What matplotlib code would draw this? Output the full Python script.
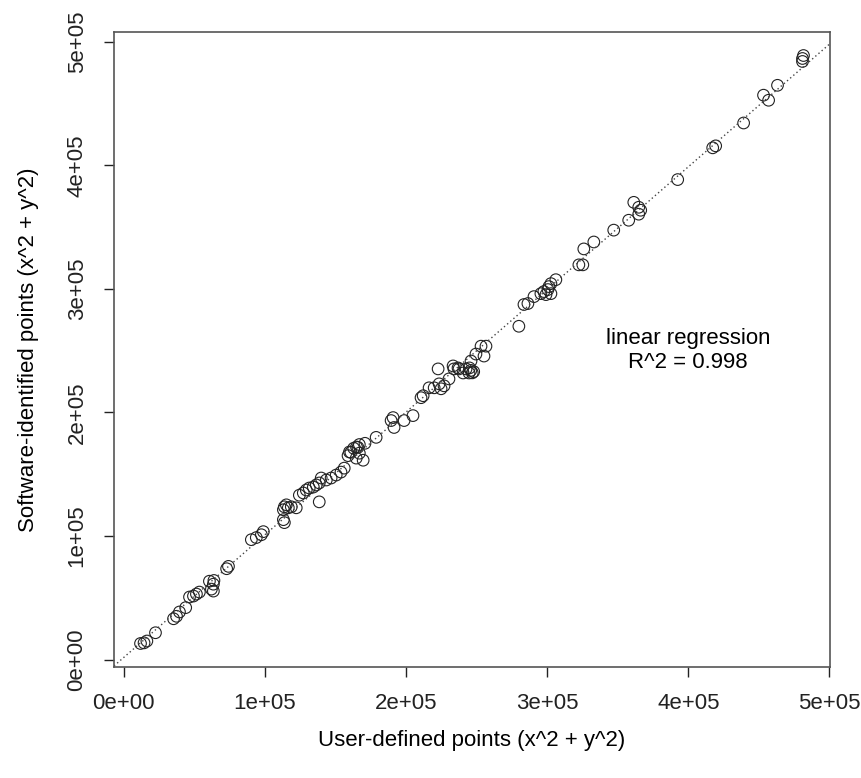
import numpy as np
import matplotlib
matplotlib.use("Agg")
import matplotlib.pyplot as plt

plt.rcParams['font.family'] = ['Liberation Sans', 'DejaVu Sans']

# x^2 + y^2 for the points placed by hand and the points found by the software
user_pts = [12000, 14500, 16500, 22600, 35400, 37500, 39600, 44000, 46700, 49500,
            51600, 53700, 60800, 63600, 62200, 63600, 64000, 74300, 73000, 90500,
            94000, 97600, 99000, 113900, 113200, 115300, 113200, 113900, 116700, 118800,
            122300, 124500, 127300, 129400, 131500, 134400, 136500, 138600, 140000, 138600,
            143600, 147000, 150600, 154000, 156300, 159000, 161000, 163000, 166000, 167000,
            169700, 164800, 160000, 165000, 167000, 171000, 178900, 189500, 190900, 191600,
            198700, 205000, 210700, 212200, 216400, 220000, 222800, 223500, 224900, 227000,
            230500, 233400, 234000, 236900, 237600, 240500, 242600, 244700, 246100, 249600,
            253200, 255300, 256700, 246000, 247000, 248000, 245000, 280000, 283600, 286400,
            290700, 295600, 297700, 300600, 301300, 302700, 306200, 299200, 302700, 322500,
            325300, 326000, 333100, 347200, 357800, 361400, 364900, 366300, 364900, 392500,
            417300, 419400, 439200, 453300, 456900, 463200, 480900, 481600, 480900]
soft_pts = [13000, 13500, 15000, 21700, 33000, 35000, 38500, 42000, 50600, 51400,
            53000, 54600, 63400, 61000, 57000, 55400, 64000, 75400, 73500, 97000,
            98700, 101000, 103500, 123600, 121200, 125200, 113200, 110800, 122800, 123600,
            122800, 133000, 134800, 137200, 138800, 139600, 141300, 142900, 146900, 127600,
            145300, 146900, 149300, 151700, 154900, 165000, 167700, 171000, 171700, 167000,
            161300, 163000, 168000, 172000, 174000, 175000, 179800, 193400, 195800, 187800,
            193400, 197400, 211900, 213500, 219900, 219900, 235200, 223100, 219100, 221500,
            227100, 237600, 235200, 236000, 235200, 231900, 235200, 231900, 241600, 247200,
            253600, 245600, 253600, 234000, 232000, 233000, 236000, 269700, 287300, 288100,
            293700, 296100, 297800, 299400, 301800, 304200, 307400, 295300, 296100, 319400,
            319400, 332300, 337900, 347500, 355500, 370000, 366000, 363600, 360400, 388400,
            414100, 415700, 434200, 456700, 452600, 464700, 486400, 488800, 484000]

ticks = [0, 100000, 200000, 300000, 400000, 500000]
tick_labels = ["0e+00", "1e+05", "2e+05", "3e+05", "4e+05", "5e+05"]

x = np.array(user_pts, dtype=float)
y = np.array(soft_pts, dtype=float)

fig = plt.figure(figsize=(8.62, 7.78), dpi=100)
ax = fig.add_axes([114 / 862, 111 / 778, 716 / 862, 635 / 778])

ax.scatter(x, y, s=70, facecolors='none', edgecolors='#222222', linewidths=0.8)

# padding like base R plots (4% on each side)
def padded(v):
    r = v.max() - v.min()
    return v.min() - 0.04 * r, v.max() + 0.04 * r

slope, icpt = np.polyfit(x, y, 1)
xl = np.array(padded(x))
ax.plot(xl, icpt + slope * xl, linestyle=(0, (1, 2)), color='#444444', linewidth=1)
ax.set_xlim(*padded(x))
ax.set_ylim(*padded(y))

ax.text(400000, 250000, "linear regression\nR^2 = 0.998", ha='center', va='center',
        fontsize=16, linespacing=1.15)

ax.set_xticks(ticks)
ax.set_xticklabels(tick_labels)
ax.set_yticks(ticks)
ax.set_yticklabels(tick_labels, rotation=90, va='center')
ax.tick_params(direction='out', length=7, width=1, labelsize=16, pad=12, colors='#222222')

for sp in ax.spines.values():
    sp.set_color('#555555')
    sp.set_linewidth(1.2)

ax.set_xlabel("User-defined points (x^2 + y^2)", fontsize=16, labelpad=11)
ax.set_ylabel("Software-identified points (x^2 + y^2)", fontsize=16, labelpad=20)

fig.savefig("out.png", dpi=100)
